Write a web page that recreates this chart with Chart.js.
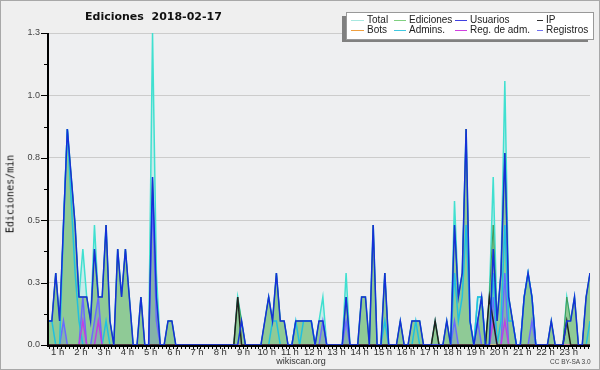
<!DOCTYPE html>
<html>
<head>
<meta charset="utf-8">
<script src="https://cdn.jsdelivr.net/npm/chart.js@4.4.1/dist/chart.umd.min.js"></script>
<style>
  html, body { margin: 0; padding: 0; background: #efefef; }
  #wrap { position: relative; width: 600px; height: 370px; box-sizing: border-box; border: 1px solid #a8a8a8; background: #efefef; overflow: hidden; font-family: 'Liberation Sans', sans-serif; }
  #c { position: absolute; left: -1px; top: -1px; }
  #title { position: absolute; left: 84px; top: 10px; font: bold 11px 'DejaVu Sans', sans-serif; line-height: 11px; white-space: pre; color: #111; }
  #ylab { position: absolute; left: 9px; top: 193px; font: 10px 'DejaVu Sans Mono', monospace; color: #111; transform: translate(-50%, -50%) rotate(-90deg); white-space: nowrap; }
  #legshadow { position: absolute; left: 341px; top: 15px; width: 246px; height: 26px; background: #808080; }
  #legend { position: absolute; left: 345px; top: 11px; width: 246px; height: 26px; background: #fff; border: 1px solid #999; }
  .it { position: absolute; font-size: 10px; color: #222; white-space: nowrap; line-height: 10px; }
  .ln { position: absolute; height: 1px; }
  #site { position: absolute; left: 0; width: 600px; top: 355px; text-align: center; font-size: 9px; color: #333; }
  #lic { position: absolute; left: 549px; top: 357px; font-size: 6.5px; color: #444; }
</style>
</head>
<body>
<div id="wrap">
  <canvas id="c" width="600" height="370"></canvas>
  <div id="title">Ediciones  2018-02-17</div>
  <div id="ylab">Ediciones/min</div>
  <div id="legshadow"></div>
  <div id="legend"></div>
  <div id="site">wikiscan.org</div>
  <div id="lic">CC BY-SA 3.0</div>
</div>
<script>
// Tranches de 10 minutes, première à 0 h 35
var startMinute = 35;
var stepMinutes = 10;

// Valeurs (éditions par minute)
var total = [
  0.1, 0.1, 0.3, 0.1, 0.5, 0.9, 0.7, 0.5, 0.2, 0.4, 0.2, 0.1, 0.5, 0.2, 0.2, 0.5, 0.1, 0, 0.4, 0.2,
  0.4, 0.2, 0, 0, 0.2, 0, 0, 1.3, 0.3, 0, 0, 0.1, 0.1, 0, 0, 0, 0, 0, 0, 0,
  0, 0, 0, 0, 0, 0, 0, 0, 0, 0.2, 0.1, 0, 0, 0, 0, 0, 0.1, 0.2, 0.1, 0.3,
  0.1, 0.1, 0, 0, 0.1, 0.1, 0.1, 0.1, 0.1, 0, 0.1, 0.2, 0, 0, 0, 0, 0, 0.3, 0, 0,
  0, 0.2, 0.2, 0, 0.5, 0, 0, 0.3, 0, 0, 0, 0.1, 0, 0, 0.1, 0.1, 0.1, 0, 0, 0,
  0.1, 0, 0, 0.1, 0, 0.6, 0.2, 0.3, 0.9, 0.1, 0, 0.2, 0.2, 0, 0.2, 0.7, 0.1, 0.3, 1.1, 0.2,
  0.1, 0, 0, 0.2, 0.3, 0.2, 0, 0, 0, 0, 0.1, 0, 0, 0, 0.2, 0.1, 0.2, 0, 0, 0.2,
  0.3
];
var ediciones = [
  0.1, 0.1, 0.3, 0.1, 0.5, 0.9, 0.7, 0.5, 0.2, 0.2, 0.2, 0.1, 0.4, 0.2, 0.2, 0.5, 0.1, 0, 0.4, 0.2,
  0.4, 0.2, 0, 0, 0.2, 0, 0, 0.7, 0.2, 0, 0, 0.1, 0.1, 0, 0, 0, 0, 0, 0, 0,
  0, 0, 0, 0, 0, 0, 0, 0, 0, 0.2, 0.1, 0, 0, 0, 0, 0, 0.1, 0.2, 0.1, 0.3,
  0.1, 0.1, 0, 0, 0.1, 0.1, 0.1, 0.1, 0.1, 0, 0.1, 0.1, 0, 0, 0, 0, 0, 0.2, 0, 0,
  0, 0.2, 0.2, 0, 0.5, 0, 0, 0.3, 0, 0, 0, 0.1, 0, 0, 0.1, 0.1, 0.1, 0, 0, 0,
  0.1, 0, 0, 0.1, 0, 0.5, 0.2, 0.3, 0.9, 0.1, 0, 0.1, 0.2, 0, 0.2, 0.5, 0.1, 0.3, 0.8, 0.2,
  0.1, 0, 0, 0.2, 0.3, 0.2, 0, 0, 0, 0, 0.1, 0, 0, 0, 0.2, 0.1, 0.2, 0, 0, 0.2,
  0.3
];
var usuarios = [
  0.1, 0.1, 0.3, 0.1, 0.5, 0.9, 0.7, 0.5, 0.2, 0.2, 0.2, 0.1, 0.4, 0.2, 0.2, 0.5, 0.1, 0, 0.4, 0.2,
  0.4, 0.2, 0, 0, 0.2, 0, 0, 0.7, 0.2, 0, 0, 0.1, 0.1, 0, 0, 0, 0, 0, 0, 0,
  0, 0, 0, 0, 0, 0, 0, 0, 0, 0, 0.1, 0, 0, 0, 0, 0, 0.1, 0.2, 0.1, 0.3,
  0.1, 0.1, 0, 0, 0.1, 0.1, 0.1, 0.1, 0.1, 0, 0.1, 0.1, 0, 0, 0, 0, 0, 0.2, 0, 0,
  0, 0.2, 0.2, 0, 0.5, 0, 0, 0.3, 0, 0, 0, 0.1, 0, 0, 0.1, 0.1, 0.1, 0, 0, 0,
  0, 0, 0, 0.1, 0, 0.5, 0.2, 0.3, 0.9, 0.1, 0, 0.1, 0.2, 0, 0, 0.4, 0.1, 0.3, 0.8, 0.2,
  0.1, 0, 0, 0.2, 0.3, 0.2, 0, 0, 0, 0, 0.1, 0, 0, 0, 0.1, 0.1, 0.2, 0, 0, 0.2,
  0.3
];
var ip = [
  0, 0, 0, 0, 0, 0, 0, 0, 0, 0, 0, 0, 0, 0, 0, 0, 0, 0, 0, 0,
  0, 0, 0, 0, 0, 0, 0, 0, 0, 0, 0, 0, 0, 0, 0, 0, 0, 0, 0, 0,
  0, 0, 0, 0, 0, 0, 0, 0, 0, 0.2, 0, 0, 0, 0, 0, 0, 0, 0, 0, 0,
  0, 0, 0, 0, 0, 0, 0, 0, 0, 0, 0, 0, 0, 0, 0, 0, 0, 0, 0, 0,
  0, 0, 0, 0, 0, 0, 0, 0, 0, 0, 0, 0, 0, 0, 0, 0, 0, 0, 0, 0,
  0.1, 0, 0, 0, 0, 0, 0, 0, 0, 0, 0, 0, 0, 0, 0.2, 0.1, 0, 0, 0, 0,
  0, 0, 0, 0, 0, 0, 0, 0, 0, 0, 0, 0, 0, 0, 0.1, 0, 0, 0, 0, 0,
  0
];
var bots = [
  0, 0, 0, 0, 0, 0, 0, 0, 0, 0, 0, 0, 0, 0, 0, 0, 0, 0, 0, 0,
  0, 0, 0, 0, 0, 0, 0, 0, 0, 0, 0, 0, 0, 0, 0, 0, 0, 0, 0, 0,
  0, 0, 0, 0, 0, 0, 0, 0, 0, 0, 0, 0, 0, 0, 0, 0, 0, 0, 0, 0,
  0, 0, 0, 0, 0, 0, 0, 0, 0, 0, 0, 0, 0, 0, 0, 0, 0, 0, 0, 0,
  0, 0, 0, 0, 0, 0, 0, 0, 0, 0, 0, 0, 0, 0, 0, 0, 0, 0, 0, 0,
  0, 0, 0, 0, 0, 0, 0, 0, 0, 0, 0, 0, 0, 0, 0, 0, 0, 0, 0, 0,
  0, 0, 0, 0, 0, 0, 0, 0, 0, 0, 0, 0, 0, 0, 0, 0, 0, 0, 0, 0,
  0
];
var admins = [
  0.1, 0.1, 0, 0, 0.5, 0.9, 0.6, 0.3, 0.1, 0, 0, 0, 0, 0, 0, 0.1, 0, 0, 0, 0,
  0, 0, 0, 0, 0, 0, 0, 0, 0, 0, 0, 0, 0, 0, 0, 0, 0, 0, 0, 0,
  0, 0, 0, 0, 0, 0, 0, 0, 0, 0, 0, 0, 0, 0, 0, 0, 0, 0, 0.1, 0.1,
  0, 0, 0, 0, 0.1, 0, 0.1, 0.1, 0.1, 0, 0, 0, 0, 0, 0, 0, 0, 0, 0, 0,
  0, 0, 0, 0, 0, 0, 0, 0.1, 0, 0, 0, 0, 0, 0, 0, 0.1, 0, 0, 0, 0,
  0, 0, 0, 0, 0, 0.3, 0.1, 0.2, 0.5, 0.1, 0, 0.2, 0.2, 0, 0, 0.3, 0, 0.1, 0.5, 0.1,
  0.1, 0, 0, 0.2, 0.3, 0.2, 0, 0, 0, 0, 0, 0, 0, 0, 0, 0, 0, 0, 0, 0,
  0.1
];
var regAdm = [
  0, 0, 0, 0, 0, 0, 0, 0, 0, 0.1, 0, 0, 0, 0.1, 0, 0, 0, 0, 0, 0,
  0, 0, 0, 0, 0, 0, 0, 0, 0, 0, 0, 0, 0, 0, 0, 0, 0, 0, 0, 0,
  0, 0, 0, 0, 0, 0, 0, 0, 0, 0, 0, 0, 0, 0, 0, 0, 0, 0, 0, 0,
  0, 0, 0, 0, 0, 0, 0, 0, 0, 0, 0, 0, 0, 0, 0, 0, 0, 0, 0, 0,
  0, 0, 0, 0, 0, 0, 0, 0, 0, 0, 0, 0, 0, 0, 0, 0, 0, 0, 0, 0,
  0, 0, 0, 0, 0, 0, 0, 0, 0, 0, 0, 0, 0, 0, 0, 0.1, 0, 0, 0.1, 0,
  0, 0, 0, 0, 0, 0, 0, 0, 0, 0, 0, 0, 0, 0, 0, 0, 0, 0, 0, 0,
  0
];
var registros = [
  0, 0, 0, 0, 0.1, 0, 0, 0, 0, 0.2, 0, 0, 0.1, 0.2, 0, 0, 0, 0, 0, 0,
  0, 0, 0, 0, 0, 0, 0, 0.6, 0.1, 0, 0, 0, 0, 0, 0, 0, 0, 0, 0, 0,
  0, 0, 0, 0, 0, 0, 0, 0, 0, 0, 0, 0, 0, 0, 0, 0, 0, 0, 0, 0,
  0, 0, 0, 0, 0, 0, 0, 0, 0, 0, 0, 0.1, 0, 0, 0, 0, 0, 0.1, 0, 0,
  0, 0, 0, 0, 0, 0, 0, 0, 0, 0, 0, 0, 0, 0, 0, 0, 0, 0, 0, 0,
  0, 0, 0, 0, 0, 0.1, 0, 0, 0, 0, 0, 0.1, 0, 0, 0, 0.2, 0, 0, 0.3, 0,
  0, 0, 0, 0, 0, 0.1, 0, 0, 0, 0, 0, 0, 0, 0, 0, 0, 0, 0, 0, 0,
  0
];

var yTicks = [0, 0.26, 0.52, 0.78, 1.04, 1.3];

// Légende : [libellé, couleur, x de la ligne, x du texte, rangée]
var legendItems = [
  ['Total', '#a8e8e0', 4, 20, 0], ['Ediciones', '#80d080', 47, 62, 0],
  ['Usuarios', '#4040e0', 108, 123, 0], ['IP', '#303030', 190, 199, 0],
  ['Bots', '#f0a040', 4, 20, 1], ['Admins.', '#40c8e0', 47, 62, 1],
  ['Reg. de adm.', '#d040e0', 108, 123, 1], ['Registros', '#7070f0', 190, 199, 1]
];

var leg = document.getElementById('legend');
legendItems.forEach(function (it) {
  var ln = document.createElement('div');
  ln.className = 'ln';
  ln.style.left = it[2] + 'px';
  ln.style.width = (it[3] - it[2] - 3) + 'px';
  ln.style.top = (it[4] ? 17 : 7) + 'px';
  ln.style.background = it[1];
  leg.appendChild(ln);
  var tx = document.createElement('div');
  tx.className = 'it';
  tx.textContent = it[0];
  tx.style.left = it[3] + 'px';
  tx.style.top = (it[4] ? 12 : 2) + 'px';
  leg.appendChild(tx);
});

function pts(values) {
  return values.map(function (v, i) { return { x: startMinute + i * stepMinutes, y: v }; });
}

// Fond de la zone de tracé, axes noirs et petites graduations
var decor = {
  id: 'decor',
  beforeDraw: function (chart) {
    var a = chart.chartArea, ctx = chart.ctx;
    ctx.save();
    ctx.fillStyle = '#eeeff1';
    ctx.fillRect(a.left, a.top, a.right - a.left, a.bottom - a.top);
    ctx.restore();
  },
  afterDatasetsDraw: function (chart) {
    var a = chart.chartArea, ctx = chart.ctx, y = chart.scales.y;
    ctx.save();
    ctx.strokeStyle = '#000';
    ctx.lineWidth = 2;
    ctx.beginPath();
    ctx.moveTo(a.left, a.top);
    ctx.lineTo(a.left, a.bottom + 1);
    ctx.lineTo(a.right, a.bottom + 1);
    ctx.stroke();
    ctx.lineWidth = 1;
    ctx.beginPath();
    for (var k = 0; k < yTicks.length; k++) {
      var py = Math.round(y.getPixelForValue(yTicks[k])) + 0.5;
      ctx.moveTo(a.left - 7, py);
      ctx.lineTo(a.left, py);
      if (k < yTicks.length - 1) {
        var pm = Math.round(y.getPixelForValue((yTicks[k] + yTicks[k + 1]) / 2)) + 0.5;
        ctx.moveTo(a.left - 4, pm);
        ctx.lineTo(a.left, pm);
      }
    }
    ctx.stroke();
    ctx.restore();
  }
};

var chart = new Chart(document.getElementById('c'), {
  type: 'line',
  data: {
    datasets: [
      { label: 'Total', data: pts(total), borderColor: '#40e0d0', backgroundColor: 'rgba(64,224,208,0.22)', fill: 'origin', borderWidth: 1.5, order: 8 },
      { label: 'Ediciones', data: pts(ediciones), borderColor: '#3c9c5a', backgroundColor: 'rgba(140,200,145,0.95)', fill: 'origin', borderWidth: 1, order: 7 },
      { label: 'Registros', data: pts(registros), borderColor: '#6a6aff', backgroundColor: 'rgba(100,100,230,0.22)', fill: 'origin', borderWidth: 1.5, order: 6 },
      { label: 'Admins.', data: pts(admins), borderColor: '#20c0e0', borderWidth: 1.5, order: 5 },
      { label: 'Reg. de adm.', data: pts(regAdm), borderColor: '#c040e0', borderWidth: 1.5, order: 4 },
      { label: 'Bots', data: pts(bots), borderColor: '#f0a040', borderWidth: 1, order: 3 },
      { label: 'IP', data: pts(ip), borderColor: '#202020', borderWidth: 1.5, order: 2 },
      { label: 'Usuarios', data: pts(usuarios), borderColor: '#1530d8', borderWidth: 1.5, order: 1 }
    ]
  },
  options: {
    responsive: false,
    animation: false,
    devicePixelRatio: 1,
    clip: 0,
    elements: { point: { radius: 0 }, line: { tension: 0 } },
    layout: { padding: { top: 33, right: 10, left: 0, bottom: 0 } },
    plugins: { legend: { display: false }, tooltip: { enabled: false } },
    scales: {
      x: {
        type: 'linear',
        min: startMinute,
        max: startMinute + (total.length - 1) * stepMinutes,
        afterBuildTicks: function (s) {
          var t = [];
          for (var m = 40; m <= 1430; m += 10) t.push({ value: m });
          s.ticks = t;
        },
        afterFit: function (s) { s.height = 25; },
        border: { display: false },
        grid: { drawOnChartArea: false, drawTicks: true, tickLength: 4, tickColor: '#000', tickWidth: 1 },
        ticks: {
          autoSkip: false, maxRotation: 0, padding: -2,
          color: '#333', font: { family: 'Liberation Sans', size: 9.5 },
          callback: function (v) { return v % 60 === 0 ? (v / 60) + ' h' : ''; }
        }
      },
      y: {
        min: 0,
        max: 1.3,
        afterBuildTicks: function (s) { s.ticks = yTicks.map(function (v) { return { value: v }; }); },
        afterFit: function (s) { s.width = 48; },
        border: { display: false },
        grid: { color: '#cccccc', drawTicks: false },
        ticks: {
          padding: 8, color: '#444', font: { family: 'Liberation Sans', size: 9 },
          callback: function (v) { return v.toFixed(1); }
        }
      }
    }
  },
  plugins: [decor]
});
</script>
</body>
</html>
